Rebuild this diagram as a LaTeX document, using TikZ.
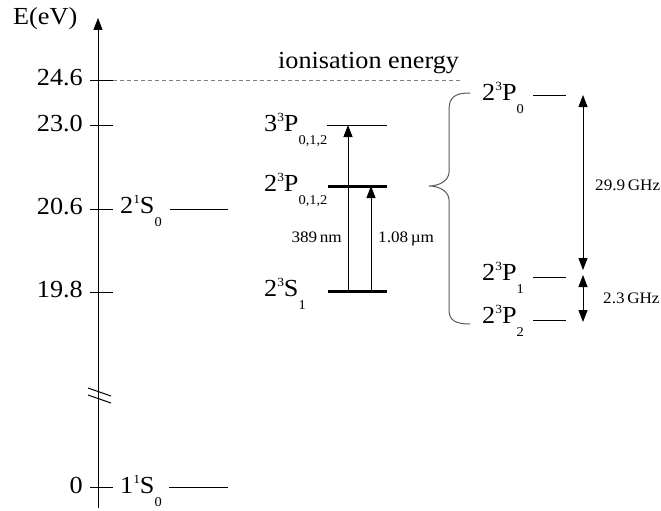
\documentclass[tikz,border=0pt]{standalone}
\usepackage{fontspec}
\setmainfont[FakeStretch=1.07]{Liberation Serif}
\usetikzlibrary{arrows.meta}
\newcommand\lv[4]{#1\raisebox{0.38em}{\fontsize{12.5}{12.5}\selectfont #2}#3\raisebox{-0.54em}{\fontsize{13.5}{13.5}\selectfont #4}}
\begin{document}
\begin{tikzpicture}[x=1pt,y=-1pt,
  big/.style={font=\fontsize{24.5}{24.5}\selectfont, inner sep=0pt},
  small/.style={font=\fontsize{16}{16}\selectfont, inner sep=0pt},
  tip/.style={-{Triangle[length=12pt,width=9pt]}},
  dtip/.style={{Triangle[length=12pt,width=9pt]}-{Triangle[length=12pt,width=9pt]}},
  thinlvl/.style={line width=1pt},
  thicklvl/.style={line width=3pt},
  axis/.style={line width=1pt}]
\useasboundingbox (0,0) rectangle (661,511);
% axis
\coordinate (abot) at (98,508);
\coordinate (atop) at (98,18);
\draw[axis,tip] (abot) -- (atop);
\node[big,anchor=base west] (elab) at (13,25) {E(eV)};
% ticks
\foreach \y/\t/\n in {80/24.6/a,125.7/23.0/b,209/20.6/c,292/19.8/d,487.7/0/e}{
  \draw[axis] (90,\y) coordinate (tl\n) -- (113,\y) coordinate (tr\n);
  \node[big,anchor=base east] (lab\n) at (83,\y+5.5) {\t};
}
% break marks
\draw[axis] (88,388) coordinate (b1a) -- (111,396) coordinate (b1b);
\draw[axis] (88,395) coordinate (b2a) -- (111,403) coordinate (b2b);
% ionisation
\coordinate (ion) at (462,80);
\draw[gray,line width=0.9pt,dash pattern=on 4pt off 3pt] (tra) -- (ion);
\node[big,anchor=base west] (iontxt) at (278,68) {ionisation energy};
% singlet levels
\node[big,anchor=base west] (s21) at (120,213) {\lv{2}{1}{S}{0}};
\draw[thinlvl] (170,209) coordinate (s21a) -- (228,209) coordinate (s21b);
\node[big,anchor=base west] (s11) at (120,493) {\lv{1}{1}{S}{0}};
\draw[thinlvl] (169,487.7) coordinate (s11a) -- (228,487.7) coordinate (s11b);
% triplet levels
\node[big,anchor=base west] (p3) at (264,131) {\lv{3}{3}{P}{0,1,2}};
\draw[thinlvl] (327,125) coordinate (p3a) -- (387,125) coordinate (p3b);
\node[big,anchor=base west] (p2) at (264,191) {\lv{2}{3}{P}{0,1,2}};
\draw[thicklvl] (328,186) coordinate (p2a) -- (387,186) coordinate (p2b);
\node[big,anchor=base west] (s2) at (264,296) {\lv{2}{3}{S}{1}};
\draw[thicklvl] (328,291) coordinate (s2a) -- (387,291) coordinate (s2b);
% transitions
\coordinate (u1) at (348,291); \coordinate (u1t) at (348,125);
\coordinate (u2) at (371,291); \coordinate (u2t) at (371,186);
\draw[axis,tip] (u1) -- (u1t);
\draw[axis,tip] (u2) -- (u2t);
\node[small,anchor=base east] (nm) at (342,242) {389\,nm};
\node[small,anchor=base west] (um) at (378,242) {1.08\,µm};
% brace
\coordinate (brtip) at (429,186);
\coordinate (brtop) at (470,93);
\coordinate (brbot) at (470,324);
\draw[gray!70!black,line width=1pt] (brtop) .. controls (455,93) and (449,97) .. (449,110) -- (449,172)
  .. controls (449,180) and (440,186) .. (brtip)
  .. controls (440,186) and (449,192) .. (449,200) -- (449,310)
  .. controls (449,320) and (455,324) .. (brbot);
% fine structure
\node[big,anchor=base west] (f0) at (482,100) {\lv{2}{3}{P}{0}};
\draw[thinlvl] (533,95) coordinate (f0a) -- (566,95) coordinate (f0b);
\node[big,anchor=base west] (f1) at (482,280) {\lv{2}{3}{P}{1}};
\draw[thinlvl] (533,277) coordinate (f1a) -- (566,277) coordinate (f1b);
\node[big,anchor=base west] (f2) at (482,323) {\lv{2}{3}{P}{2}};
\draw[thinlvl] (533,320) coordinate (f2a) -- (566,320) coordinate (f2b);
\coordinate (g1) at (583,95); \coordinate (g2) at (583,270);
\coordinate (g3) at (583,275); \coordinate (g4) at (583,322);
\draw[axis,dtip] (g1) -- (g2);
\draw[axis,dtip] (g3) -- (g4);
\node[small,anchor=base west] (ghz1) at (595,190) {29.9\,GHz};
\node[small,anchor=base west] (ghz2) at (603,303) {2.3\,GHz};
\end{tikzpicture}
\end{document}
